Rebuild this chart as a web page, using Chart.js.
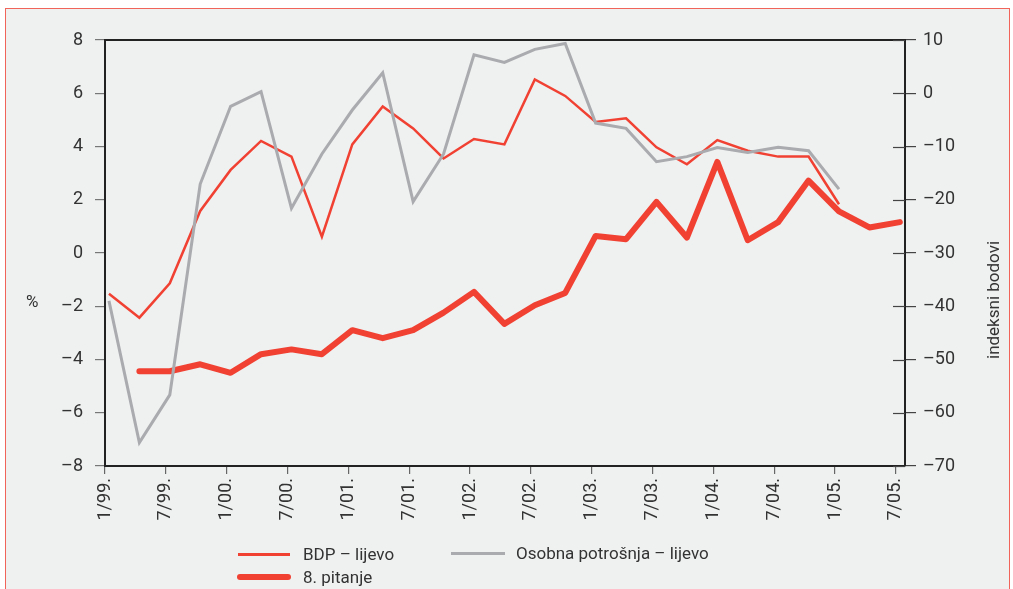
<!DOCTYPE html>
<html>
<head>
<meta charset="utf-8">
<script src="https://cdn.jsdelivr.net/npm/chart.js@4.4.1/dist/chart.umd.min.js"></script>
<style>
  html, body { margin: 0; padding: 0; background: #fff; }
  #wrap { position: relative; width: 1013px; height: 589px; overflow: hidden; font-family: Roboto, "Liberation Sans", sans-serif; color: #333; }
  #frame { position: absolute; left: 5px; top: 8px; width: 1003px; height: 600px; background: #eff0f0; border: 1.5px solid #f0645a; }
  #chart { position: absolute; left: 0; top: 0; }
  .ttl { position: absolute; font-size: 17px; color: #333; white-space: nowrap; }
  .leg { position: absolute; font-size: 17px; color: #333; white-space: nowrap; line-height: 20px; }
  .sw { position: absolute; }
</style>
</head>
<body>
<div id="wrap">
  <div id="frame"></div>
  <canvas id="chart" width="1013" height="589"></canvas>
  <div class="ttl" style="left:26px; top:291px;">%</div>
  <div class="ttl" style="left:993px; top:300px; transform: translate(-50%,-50%) rotate(-90deg);">indeksni bodovi</div>

  <div class="sw" style="left:238px; top:553px; width:52px; height:2.5px; background:#f04133;"></div>
  <div class="leg" style="left:303px; top:544px;">BDP – lijevo</div>
  <div class="sw" style="left:451px; top:552px; width:54px; height:3px; background:#a9abae;"></div>
  <div class="leg" style="left:516px; top:543px;">Osobna potrošnja – lijevo</div>
  <div class="sw" style="left:237px; top:574px; width:54px; height:6px; border-radius:3px; background:#f04133;"></div>
  <div class="leg" style="left:303px; top:567px;">8. pitanje</div>
</div>
<script>
// x tick labels (every 6 months), data is quarterly from 1/99 to 7/05
const xLabels = ["1/99.", "7/99.", "1/00.", "7/00.", "1/01.", "7/01.", "1/02.", "7/02.",
                 "1/03.", "7/03.", "1/04.", "7/04.", "1/05.", "7/05."];

// BDP - lijevo (%), quarters 1/99 .. 1/05
const bdp = [-1.53, -2.43, -1.14, 1.58, 3.12, 4.21, 3.62, 0.61, 4.08, 5.50,
             4.68, 3.55, 4.28, 4.08, 6.52, 5.90, 4.92, 5.06, 3.97, 3.33,
             4.24, 3.84, 3.62, 3.62, 1.83];

// Osobna potrosnja - lijevo (%), quarters 1/99 .. 1/05
const potrosnja = [-1.80, -7.12, -5.33, 2.59, 5.51, 6.06, 1.68, 3.72, 5.37, 6.77,
                   1.93, 3.72, 7.44, 7.16, 7.65, 7.87, 4.88, 4.68, 3.43, 3.62,
                   3.96, 3.78, 3.97, 3.84, 2.40];

// 8. pitanje (indeksni bodovi, right axis), quarters 1/99 .. 7/05
const pitanje8 = [null, -52.2, -52.2, -50.9, -52.5, -49.0, -48.1, -49.0, -44.5, -46.0,
                  -44.5, -41.2, -37.3, -43.3, -39.8, -37.5, -26.8, -27.4, -20.4, -27.1,
                  -12.9, -27.6, -24.2, -16.4, -22.2, -25.2, -24.2];

const toPoints = arr => arr.map((v, i) => ({ x: i, y: v }));
const minus = v => (v < 0 ? "\u2013" + Math.abs(v) : String(v));

const RED = "#f04133";
const GRAY = "#a9abae";
const TXT = "#333";
const FONT = { family: "Roboto, 'Liberation Sans', sans-serif", size: 18 };

const framePlugin = {
    id: "frame",
    afterDraw(chart) {
        const { ctx, chartArea } = chart;
        const y1 = chart.scales.y1;
        ctx.save();
        // top border of plot box
        ctx.strokeStyle = "#222";
        ctx.lineWidth = 2;
        ctx.beginPath();
        ctx.moveTo(chartArea.left - 1, chartArea.top);
        ctx.lineTo(chartArea.right + 1, chartArea.top);
        ctx.stroke();
        // right axis ticks also cross into the plot
        ctx.strokeStyle = "#444";
        ctx.lineWidth = 1.2;
        y1.ticks.forEach(t => {
            const py = Math.round(y1.getPixelForValue(t.value)) + 0.5;
            ctx.beginPath();
            ctx.moveTo(chartArea.right - 12, py);
            ctx.lineTo(chartArea.right, py);
            ctx.stroke();
        });
        ctx.restore();
    }
};

new Chart(document.getElementById("chart").getContext("2d"), {
    type: "line",
    data: {
        datasets: [
            {
                label: "Osobna potrošnja – lijevo",
                data: toPoints(potrosnja),
                borderColor: GRAY,
                borderWidth: 3,
                yAxisID: "y",
                pointRadius: 0,
                tension: 0
            },
            {
                label: "BDP – lijevo",
                data: toPoints(bdp),
                borderColor: RED,
                borderWidth: 2.5,
                yAxisID: "y",
                pointRadius: 0,
                tension: 0
            },
            {
                label: "8. pitanje",
                data: toPoints(pitanje8),
                borderColor: RED,
                borderWidth: 6,
                borderCapStyle: "round",
                borderJoinStyle: "round",
                yAxisID: "y1",
                pointRadius: 0,
                tension: 0
            }
        ]
    },
    options: {
        responsive: false,
        animation: false,
        layout: { padding: { top: 40, left: 0, right: 0, bottom: 0 } },
        plugins: { legend: { display: false }, tooltip: { enabled: false } },
        scales: {
            x: {
                type: "linear",
                min: -0.13,
                max: 26.17,
                afterBuildTicks: scale => {
                    scale.ticks = xLabels.map((_, k) => ({ value: -0.13 + 2 * k }));
                },
                afterFit: scale => { scale.height = 123; },
                ticks: {
                    autoSkip: false,
                    maxRotation: 90,
                    minRotation: 90,
                    padding: 4,
                    color: TXT,
                    font: FONT,
                    callback: (v, i) => xLabels[i]
                },
                grid: { drawOnChartArea: false, tickLength: 8, color: "#666", lineWidth: 1.2 },
                border: { display: true, color: "#222", width: 2 }
            },
            y: {
                position: "left",
                min: -8,
                max: 8,
                afterFit: scale => { scale.width = 105; },
                ticks: { stepSize: 2, padding: 12, color: TXT, font: FONT, callback: minus },
                grid: { drawOnChartArea: false, tickLength: 10, color: "#777", lineWidth: 1.2 },
                border: { display: true, color: "#222", width: 2 }
            },
            y1: {
                position: "right",
                min: -70,
                max: 10,
                afterFit: scale => { scale.width = 108; },
                ticks: { stepSize: 10, padding: 7, color: TXT, font: FONT, callback: minus },
                grid: { drawOnChartArea: false, tickLength: 11, color: "#444", lineWidth: 1.2 },
                border: { display: true, color: "#222", width: 2 }
            }
        }
    },
    plugins: [framePlugin]
});
</script>
</body>
</html>
